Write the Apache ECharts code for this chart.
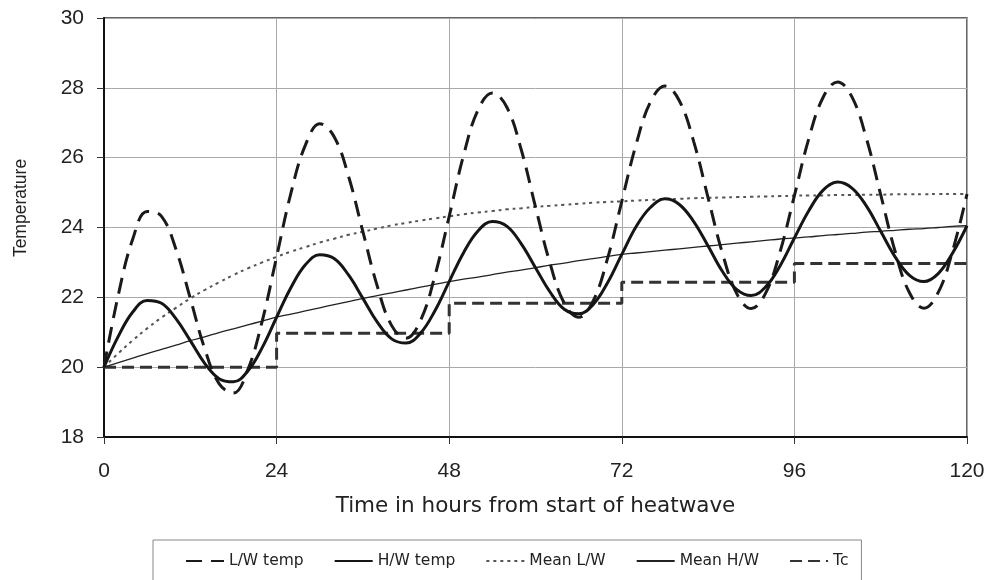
<!DOCTYPE html>
<html>
<head>
<meta charset="utf-8">
<script src="https://cdn.jsdelivr.net/npm/echarts@6/dist/echarts.min.js"></script>
<style>
html,body{margin:0;padding:0;background:#fff;}
#chart{width:989px;height:580px;}
</style>
</head>
<body>
<div id="chart"></div>
<script>
// Hours from start of heatwave (sampled every 2 h)
const hours = [0,2,4,6,8,10,12,14,16,18,20,22,24,26,28,30,32,34,36,38,40,42,44,46,48,50,52,54,56,58,60,62,64,66,68,70,72,74,76,78,80,82,84,86,88,90,92,94,96,98,100,102,104,106,108,110,112,114,116,118,120];

// L/W temp (lightweight building) – large daily swing
const lwTemp = [20.00,22.08,23.67,24.46,24.32,23.38,21.97,20.53,19.53,19.26,19.93,21.32,23.16,24.99,26.36,26.97,26.60,25.47,23.88,22.32,21.19,20.83,21.33,22.61,24.32,26.07,27.36,27.85,27.45,26.24,24.59,22.99,21.83,21.43,21.89,23.10,24.75,26.39,27.60,28.05,27.63,26.46,24.85,23.26,22.10,21.68,22.12,23.30,24.91,26.54,27.73,28.17,27.74,26.56,24.94,23.32,22.13,21.69,22.14,23.33,24.96];

// H/W temp (heavyweight building) – smaller swing
const hwTemp = [20.00,20.89,21.58,21.91,21.83,21.39,20.76,20.11,19.67,19.58,19.89,20.56,21.43,22.28,22.93,23.22,23.11,22.64,21.97,21.29,20.81,20.69,20.97,21.61,22.45,23.28,23.90,24.17,24.04,23.54,22.85,22.16,21.66,21.53,21.79,22.41,23.23,24.03,24.58,24.82,24.66,24.17,23.47,22.74,22.22,22.05,22.30,22.90,23.70,24.48,25.07,25.30,25.13,24.62,23.89,23.16,22.63,22.45,22.68,23.27,24.05];

// Mean L/W
const meanLW = [20.00,20.40,20.77,21.11,21.42,21.70,21.97,22.21,22.43,22.64,22.83,23.00,23.16,23.31,23.44,23.57,23.68,23.79,23.88,23.97,24.06,24.13,24.20,24.26,24.32,24.38,24.43,24.47,24.52,24.55,24.59,24.62,24.65,24.68,24.71,24.73,24.75,24.77,24.79,24.81,24.82,24.84,24.85,24.86,24.87,24.88,24.89,24.90,24.91,24.92,24.92,24.93,24.93,24.94,24.94,24.95,24.95,24.95,24.96,24.96,24.96];

// Mean H/W
const meanHW = [20.00,20.13,20.26,20.39,20.51,20.63,20.76,20.87,20.99,21.10,21.21,21.32,21.43,21.52,21.61,21.70,21.79,21.88,21.97,22.05,22.13,22.21,22.29,22.37,22.45,22.52,22.58,22.65,22.72,22.78,22.85,22.92,22.98,23.05,23.11,23.17,23.23,23.27,23.31,23.35,23.39,23.43,23.47,23.51,23.55,23.59,23.63,23.67,23.70,23.73,23.77,23.80,23.83,23.87,23.89,23.92,23.95,23.97,24.00,24.03,24.05];

// Tc – one value per day
const tcDayStart = [0,24,48,72,96];
const tcDayEnd = [24,48,72,96,120];
const tcValues = [20.0,20.97,21.83,22.43,22.97];

// Axis ticks
const xTicks = [0,24,48,72,96,120];
const yTicks = [18,20,22,24,26,28,30];

const pairs = ys => hours.map((h, i) => [h, ys[i]]);
const tcPoints = tcValues.flatMap((v, i) => [[tcDayStart[i], v], [tcDayEnd[i], v]]);

const chart = echarts.init(document.getElementById('chart'), null, {renderer: 'canvas'});
const baseFont = 'Liberation Sans';

chart.setOption({
  animation: false,
  backgroundColor: '#fff',
  grid: {
    left: 104, right: 22, top: 18, bottom: 143,
    show: true, borderColor: '#333', borderWidth: 1.5, backgroundColor: 'transparent'
  },
  graphic: [{
    type: 'text',
    x: 21, y: 208, rotation: Math.PI / 2,
    style: {
      text: 'Temperature', fontFamily: baseFont, fontSize: 17.5, fill: '#222',
      align: 'center', verticalAlign: 'middle'
    }
  }],
  legend: {
    left: 153, top: 540,
    padding: [13, 13, 20, 32],
    borderColor: '#888', borderWidth: 1,
    itemWidth: 38, itemHeight: 14, itemGap: 30,
    itemStyle: {opacity: 0},
    textStyle: {fontFamily: 'DejaVu Sans', fontSize: 15.5, color: '#222'},
    data: ['L/W temp', 'H/W temp', 'Mean L/W', 'Mean H/W', 'Tc']
  },
  xAxis: {
    type: 'value',
    min: xTicks[0], max: xTicks[xTicks.length - 1], interval: 24,
    name: 'Time in hours from start of heatwave',
    nameLocation: 'middle', nameGap: 58,
    nameTextStyle: {fontFamily: 'DejaVu Sans', fontSize: 21.5, color: '#222'},
    axisLine: {show: true, lineStyle: {color: '#111', width: 2}},
    axisTick: {show: true, length: 7, lineStyle: {color: '#333'}},
    axisLabel: {fontFamily: baseFont, fontSize: 21, color: '#222', margin: 24},
    splitLine: {show: true, lineStyle: {color: '#aaa', width: 1}}
  },
  yAxis: {
    type: 'value',
    min: yTicks[0], max: yTicks[yTicks.length - 1], interval: 2,
    axisLine: {show: true, lineStyle: {color: '#111', width: 2}},
    axisTick: {show: true, length: 7, lineStyle: {color: '#333'}},
    axisLabel: {fontFamily: baseFont, fontSize: 21, color: '#222', margin: 20},
    splitLine: {show: true, lineStyle: {color: '#aaa', width: 1}}
  },
  series: [
    {
      name: 'L/W temp', type: 'line', data: pairs(lwTemp),
      smooth: 0.4, showSymbol: false, symbol: 'none',
      lineStyle: {color: '#1a1a1a', width: 3, type: [16, 9]},
      itemStyle: {color: '#1a1a1a'}, z: 4
    },
    {
      name: 'H/W temp', type: 'line', data: pairs(hwTemp),
      smooth: 0.4, showSymbol: false, symbol: 'none',
      lineStyle: {color: '#151515', width: 3},
      itemStyle: {color: '#151515'}, z: 5
    },
    {
      name: 'Mean L/W', type: 'line', data: pairs(meanLW),
      smooth: 0.4, showSymbol: false, symbol: 'none',
      lineStyle: {color: '#555', width: 2, type: [3, 4]},
      itemStyle: {color: '#555'}, z: 3
    },
    {
      name: 'Mean H/W', type: 'line', data: pairs(meanHW),
      smooth: 0.4, showSymbol: false, symbol: 'none',
      lineStyle: {color: '#222', width: 1.3},
      itemStyle: {color: '#222'}, z: 3
    },
    {
      name: 'Tc', type: 'line', data: tcPoints,
      showSymbol: false, symbol: 'none',
      lineStyle: {color: '#333', width: 3, type: [12, 6]},
      itemStyle: {color: '#333'}, z: 2
    }
  ]
});
</script>
</body>
</html>
